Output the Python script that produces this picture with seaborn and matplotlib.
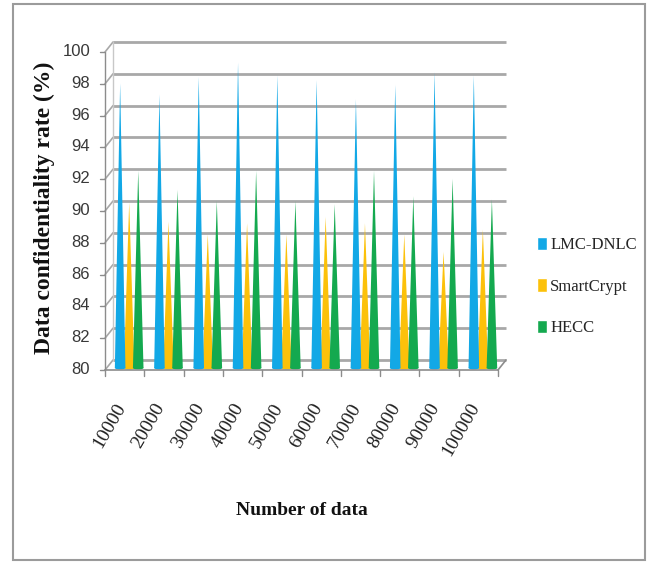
import numpy as np
import pandas as pd
import matplotlib
matplotlib.use("Agg")
import matplotlib.pyplot as plt
from matplotlib.patches import Polygon, Ellipse, Rectangle
import seaborn as sns

# ---- data -------------------------------------------------------------
data_sizes = ["10000", "20000", "30000", "40000", "50000",
              "60000", "70000", "80000", "90000", "100000"]
lmc_dnlc = [97.9, 97.2, 98.3, 99.2, 98.4, 98.1, 96.9, 97.8, 98.6, 98.4]
smartcrypt = [90.4, 89.2, 88.4, 89.1, 88.4, 89.5, 89.1, 88.4, 87.3, 88.7]
hecc = [92.4, 91.2, 90.5, 92.4, 90.5, 90.3, 92.4, 90.8, 91.9, 90.6]
methods = ["LMC-DNLC", "SmartCrypt", "HECC"]
colors = ["#12A8E6", "#FCC10A", "#14A94F"]
y_ticks = list(range(80, 101, 2))

df = pd.DataFrame({
    "size": data_sizes * 3,
    "rate": lmc_dnlc + smartcrypt + hecc,
    "method": np.repeat(methods, len(data_sizes)),
})

sns.set_theme(style="white")
plt.rcParams["font.family"] = ["Liberation Serif", "DejaVu Sans"]

fig = plt.figure(figsize=(6.5, 5.63), dpi=100)
fig.patch.set_facecolor("white")
ax = fig.add_axes([0.1685, 0.3464, 0.6046, 0.5648])
ax.set_facecolor("none")

sns.barplot(data=df, x="size", y="rate", hue="method", order=data_sizes,
            hue_order=methods, palette=colors, saturation=1, width=0.69,
            errorbar=None, ax=ax)
ax.set_xlim(-0.5, 9.5)
ax.set_ylim(80, 100)
sns.despine(ax=ax, left=True, bottom=True)

# one screen pixel expressed in data units
px_x = 10 / 393
px_y = 20 / 318

# ---- turn each bar into a cone ---------------------------------------
draw_order = [1, 0, 2]
for i in draw_order:
    for rect in ax.containers[i]:
        rect.set_visible(False)
        x0, w, h = rect.get_x(), rect.get_width(), rect.get_height()
        fc = rect.get_facecolor()
        cx = x0 + w / 2
        half = w * 1.17 / 2
        z = 3 if i == 1 else 4
        ax.add_patch(Polygon([(cx - half, 80), (cx, h), (cx + half, 80)],
                             closed=True, facecolor=fc, edgecolor="none",
                             zorder=z))
        ax.add_patch(Ellipse((cx, 80), 2 * half, 3.0 * px_y, facecolor=fc,
                             edgecolor="none", zorder=z, clip_on=False))

# ---- 3D style walls, floor and front axis ------------------------------
bx, by = 3.5 * px_x, 8 * px_y      # back wall offset
fx, fy = -4.5 * px_x, -2 * px_y    # front edge offset
grid_c = "#a8a8a8"
for v in y_ticks:
    ax.plot([-0.5 + bx, 9.5 + bx], [v + by, v + by], color=grid_c, lw=2.0,
            solid_capstyle="butt", zorder=1, clip_on=False)
    ax.plot([-0.5 + fx, -0.5 + bx], [v + fy, v + by], color=grid_c, lw=1.2,
            zorder=1, clip_on=False)
    ax.plot([-0.5 + fx - 5 * px_x, -0.5 + fx], [v + fy, v + fy],
            color="#8c8c8c", lw=1.0, zorder=1, clip_on=False)
# back-left wall edge and front axis line
ax.plot([-0.5 + bx, -0.5 + bx], [80 + by, 100 + by], color="#c8c8c8",
        lw=1.0, zorder=1, clip_on=False)
ax.plot([-0.5 + fx, -0.5 + fx], [80 + fy, 100 + fy], color="#8c8c8c",
        lw=1.0, zorder=1, clip_on=False)
# floor front edge, right edge and category ticks
ax.plot([-0.5 + fx, 9.5 + fx], [80 + fy, 80 + fy], color="#8c8c8c", lw=1.2,
        zorder=5, clip_on=False)
ax.plot([9.5 + fx, 9.5 + bx], [80 + fy, 80 + by], color="#8c8c8c", lw=1.2,
        zorder=5, clip_on=False)
for k in range(len(data_sizes) + 1):
    xk = k - 0.5 + fx
    ax.plot([xk, xk], [80 + fy, 80 + fy - 6 * px_y], color="#8c8c8c",
            lw=1.0, zorder=5, clip_on=False)

# ---- ticks and labels ---------------------------------------------------
ax.set_yticks(y_ticks)
ax.set_yticklabels([str(v) for v in y_ticks], family="Liberation Sans",
                   fontsize=12, color="#383838")
ax.tick_params(axis="y", length=0, pad=14)
ax.tick_params(axis="x", length=0, pad=23)
plt.setp(ax.get_xticklabels(), rotation=60, ha="right", fontsize=14,
         color="#202020")

ax.set_xlabel("Number of data", fontsize=14, fontweight="bold",
              color="#111111")
ax.xaxis.set_label_coords(0.49, -0.422)
ax.set_ylabel("Data confidentiality rate (%)", fontsize=17,
              fontweight="bold", color="#111111")
ax.yaxis.set_label_coords(-0.14, 0.505)

sns.move_legend(ax, "upper left", bbox_to_anchor=(0.803, 0.606),
                bbox_transform=fig.transFigure, frameon=False, title=None,
                handlelength=0.6, handleheight=0.85, handletextpad=0.2,
                labelspacing=1.5, fontsize=12)

# outer frame around the whole chart
fig.add_artist(Rectangle((13 / 650, 1 - 560 / 563), 632 / 650, 556 / 563,
                         transform=fig.transFigure, fill=False,
                         edgecolor="#9b9b9b", lw=1.5))

fig.savefig("out.png", dpi=100)
